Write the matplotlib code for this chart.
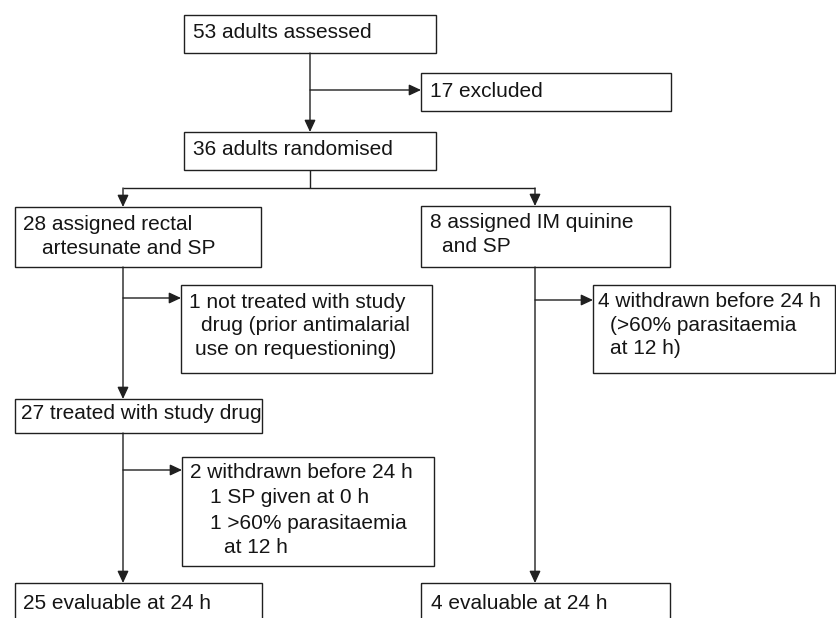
import matplotlib
matplotlib.use("Agg")
import matplotlib.pyplot as plt
from matplotlib.patches import Rectangle

# ---------------- content (data) ----------------
assessed = ["53 adults assessed"]
excluded = ["17 excluded"]
randomised = ["36 adults randomised"]
arm_a = ["28 assigned rectal", "artesunate and SP"]
arm_b = ["8 assigned IM quinine", "and SP"]
a_not_treated = ["1 not treated with study", "drug (prior antimalarial", "use on requestioning)"]
a_treated = ["27 treated with study drug"]
a_withdrawn = ["2 withdrawn before 24 h", "1 SP given at 0 h", "1 >60% parasitaemia", "at 12 h"]
b_withdrawn = ["4 withdrawn before 24 h", "(>60% parasitaemia", "at 12 h)"]
a_evaluable = ["25 evaluable at 24 h"]
b_evaluable = ["4 evaluable at 24 h"]

# ---------------- layout (pixel space, y downwards) ----------------
W, H = 837, 618
boxes = [
    # lines, (x0, y0, x1, y1), text x per line, baseline per line
    (assessed, (184, 15, 436, 53), [193], [38]),
    (excluded, (421, 73, 671, 111), [430], [97]),
    (randomised, (184, 132, 436, 170), [193], [155]),
    (arm_a, (15, 207, 261, 267), [23, 42], [230, 254]),
    (arm_b, (421, 206, 670, 267), [430, 442], [228, 252]),
    (a_not_treated, (181, 285, 432, 373), [189, 201, 195], [308, 331, 355]),
    (b_withdrawn, (593, 285, 835, 373), [598, 610, 610], [307, 331, 354]),
    (a_treated, (15, 399, 262, 433), [21], [419]),
    (a_withdrawn, (182, 457, 434, 566), [190, 210, 210, 224], [478, 503, 529, 553]),
    (a_evaluable, (15, 583, 262, 650), [23], [609]),
    (b_evaluable, (421, 583, 670, 650), [431], [609]),
]

plain_lines = [
    ((310, 170), (310, 188)),
    ((123, 188), (535, 188)),
]
arrows = [
    ((310, 53), (310, 132)),
    ((310, 90), (421, 90)),
    ((123, 188), (123, 207)),
    ((535, 188), (535, 206)),
    ((123, 267), (123, 399)),
    ((123, 298), (181, 298)),
    ((535, 267), (535, 583)),
    ((535, 300), (593, 300)),
    ((123, 433), (123, 583)),
    ((123, 470), (182, 470)),
]

LINE = "#202020"
TEXT = "#151515"

fig = plt.figure(figsize=(W / 100, H / 100), dpi=100)
ax = fig.add_axes([0, 0, 1, 1])
ax.set_xlim(0, W)
ax.set_ylim(H, 0)
ax.axis("off")

for lines, (x0, y0, x1, y1), xs, ys in boxes:
    ax.add_patch(Rectangle((x0, y0), x1 - x0, y1 - y0, fill=False,
                           edgecolor=LINE, linewidth=1.0))
    for txt, tx, ty in zip(lines, xs, ys):
        ax.text(tx, ty, txt, fontsize=15, family="Liberation Sans",
                color=TEXT, ha="left", va="baseline")

for (xa, ya), (xb, yb) in plain_lines:
    ax.plot([xa, xb], [ya, yb], color=LINE, lw=1.0, solid_capstyle="butt")

for (xa, ya), (xb, yb) in arrows:
    ax.annotate("", xy=(xb, yb), xytext=(xa, ya),
                arrowprops=dict(arrowstyle="-|>,head_length=0.6,head_width=0.28",
                                color=LINE, lw=1.0, shrinkA=0, shrinkB=0,
                                mutation_scale=12))

fig.savefig("out.png", dpi=100)
